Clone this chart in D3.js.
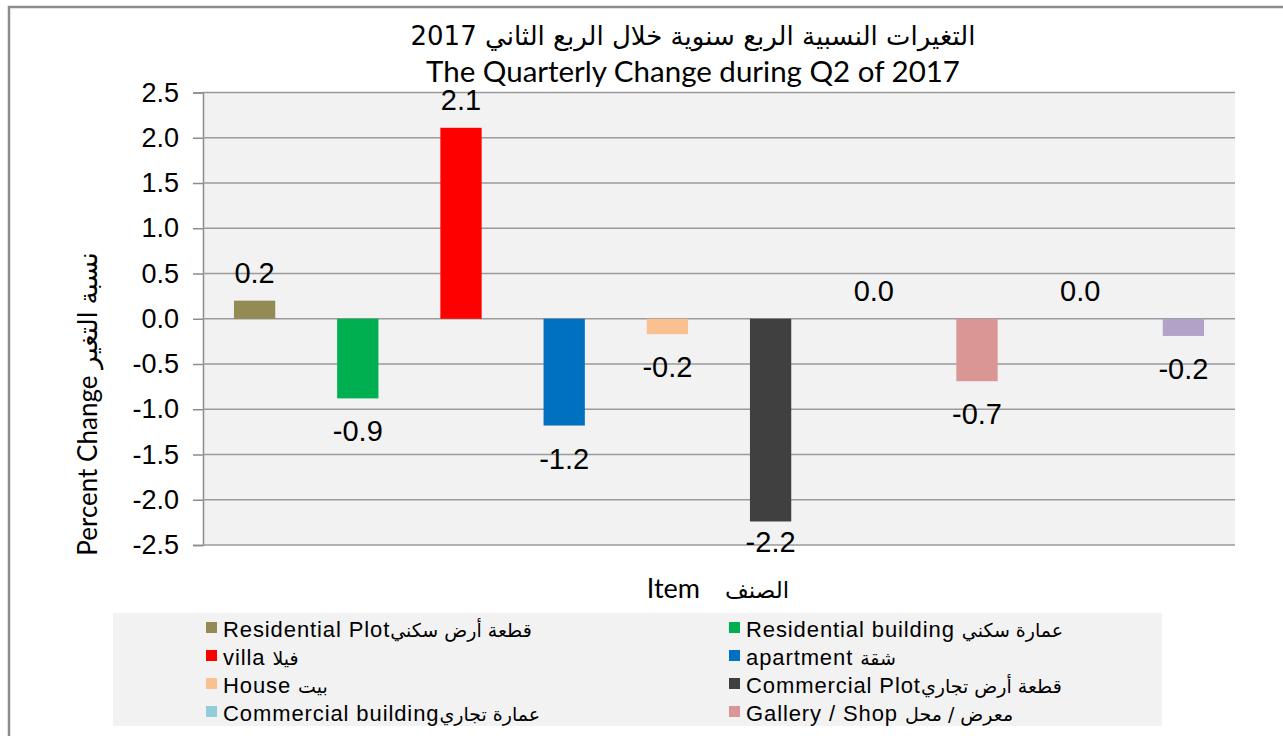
<!DOCTYPE html>
<html>
<head>
<meta charset="utf-8">
<script src="https://cdn.jsdelivr.net/npm/d3@7"></script>
<style>
  html, body { margin: 0; padding: 0; background: #ffffff; }
  svg { display: block; }
</style>
</head>
<body>
<svg id="chart" width="1283" height="736"></svg>
<script>
// ---------------- DATA ----------------
const categories = [
  "Residential Plot", "Residential building", "villa", "apartment", "House",
  "Commercial Plot", "Commercial building", "Gallery / Shop", "Item 9", "Item 10"
];
// legend entries visible in the reference (the remaining ones are clipped)
const legendEn = [
  "Residential Plot", "Residential building ", "villa ", "apartment ",
  "House ", "Commercial Plot", "Commercial building", "Gallery / Shop "
];
const legendAr = [
  "\u0642\u0637\u0639\u0629 \u0623\u0631\u0636 \u0633\u0643\u0646\u064A",
  "\u0639\u0645\u0627\u0631\u0629 \u0633\u0643\u0646\u064A",
  "\u0641\u064A\u0644\u0627",
  "\u0634\u0642\u0629",
  "\u0628\u064A\u062A",
  "\u0642\u0637\u0639\u0629 \u0623\u0631\u0636 \u062A\u062C\u0627\u0631\u064A",
  "\u0639\u0645\u0627\u0631\u0629 \u062A\u062C\u0627\u0631\u064A",
  "\u0645\u0639\u0631\u0636 / \u0645\u062D\u0644"
];
const values = [0.2, -0.88, 2.11, -1.18, -0.17, -2.24, 0.0, -0.69, 0.0, -0.19];
const colors = ["#948a54", "#00b050", "#ff0000", "#0070c0", "#fac090",
                "#404040", "#92cddc", "#d99694", "#8eb4e3", "#b3a2c7"];
const yTicks = [-2.5, -2.0, -1.5, -1.0, -0.5, 0.0, 0.5, 1.0, 1.5, 2.0, 2.5];
const titleAr = "\u0627\u0644\u062A\u063A\u064A\u0631\u0627\u062A \u0627\u0644\u0646\u0633\u0628\u064A\u0629 \u0627\u0644\u0631\u0628\u0639 \u0633\u0646\u0648\u064A\u0629 \u062E\u0644\u0627\u0644 \u0627\u0644\u0631\u0628\u0639 \u0627\u0644\u062B\u0627\u0646\u064A 2017";
const titleEn = "The Quarterly Change during Q2 of 2017";
const yTitle = "Percent Change  \u0646\u0633\u0628\u0629 \u0627\u0644\u062A\u063A\u064A\u0631";
const xTitleEn = "Item";
const xTitleAr = "\u0627\u0644\u0635\u0646\u0641";

// ---------------- LAYOUT ----------------
const svg = d3.select("#chart");
const plot = { left: 203, right: 1235, top: 92.5, bottom: 545 };
const fmt = d3.formatLocale({ decimal: ".", thousands: ",", grouping: [3], currency: ["", ""], minus: "-" }).format(".1f");

// outer chart border (only top/left visible)
svg.append("rect")
  .attr("x", 9).attr("y", 7).attr("width", 1300).attr("height", 760)
  .attr("fill", "#ffffff").attr("stroke", "#8c8c8c").attr("stroke-width", 2.5);

const x = d3.scaleBand().domain(categories)
  .range([plot.left, plot.right]).paddingInner(0.6).paddingOuter(0.3);
const y = d3.scaleLinear().domain([-2.5, 2.5]).range([plot.bottom, plot.top]);

// plot background
svg.append("rect")
  .attr("x", plot.left).attr("y", plot.top)
  .attr("width", plot.right - plot.left).attr("height", plot.bottom - plot.top)
  .attr("fill", "#f2f2f2");

// gridlines + y axis
const yAxis = d3.axisLeft(y).tickValues(yTicks).tickFormat(fmt)
  .tickSize(10).tickPadding(14);
const gy = svg.append("g").attr("transform", `translate(${plot.left},0)`).call(yAxis);
gy.select(".domain").attr("stroke", "#8c8c8c").attr("stroke-width", 1.5);
gy.selectAll(".tick line").attr("stroke", "#8c8c8c").attr("stroke-width", 1.5);
gy.selectAll(".tick text")
  .attr("font-family", "'Liberation Sans', Arial, sans-serif")
  .attr("font-size", 27).attr("fill", "#000");

svg.append("g").selectAll("line").data(yTicks).join("line")
  .attr("x1", plot.left).attr("x2", plot.right)
  .attr("y1", d => y(d)).attr("y2", d => y(d))
  .attr("stroke", "#9a9a9a").attr("stroke-width", 1.5);

// bars
svg.append("g").selectAll("rect").data(values).join("rect")
  .attr("x", (d, i) => x(categories[i]))
  .attr("width", x.bandwidth())
  .attr("y", d => y(Math.max(0, d)))
  .attr("height", d => Math.abs(y(d) - y(0)))
  .attr("fill", (d, i) => colors[i]);

// data labels
svg.append("g").selectAll("text").data(values).join("text")
  .attr("x", (d, i) => x(categories[i]) + x.bandwidth() / 2)
  .attr("y", d => d >= 0 ? y(d) - 18 : Math.min(y(d) + 43, 552))
  .attr("text-anchor", "middle")
  .attr("font-family", "'Liberation Sans', Arial, sans-serif")
  .attr("font-size", 29).attr("fill", "#000")
  .text(d => fmt(d));

// titles
svg.append("text")
  .attr("x", 693).attr("y", 45).attr("text-anchor", "middle")
  .attr("font-family", "'DejaVu Sans', sans-serif")
  .attr("font-size", 26).attr("fill", "#000")
  .text(titleAr);
svg.append("text")
  .attr("x", 693).attr("y", 82).attr("text-anchor", "middle")
  .attr("font-family", "Lato, 'Open Sans', sans-serif")
  .attr("font-size", 29.5).attr("fill", "#000")
  .text(titleEn);

// axis titles
svg.append("text")
  .attr("transform", "translate(97,404) rotate(-90)")
  .attr("text-anchor", "middle")
  .attr("font-family", "Lato, 'DejaVu Sans', sans-serif")
  .attr("font-size", 26).attr("fill", "#000")
  .text(yTitle);
svg.append("text")
  .attr("x", 700).attr("y", 598).attr("text-anchor", "end")
  .attr("font-family", "Lato, sans-serif")
  .attr("font-size", 27).attr("fill", "#000")
  .text(xTitleEn);
svg.append("text")
  .attr("x", 725).attr("y", 598).attr("text-anchor", "start")
  .attr("font-family", "'DejaVu Sans', sans-serif")
  .attr("font-size", 23).attr("fill", "#000")
  .text(xTitleAr);

// legend
svg.append("rect")
  .attr("x", 113).attr("y", 613).attr("width", 1049).attr("height", 113)
  .attr("fill", "#f2f2f2");
const lg = svg.append("g").selectAll("g").data(legendEn).join("g")
  .attr("transform", (d, i) => `translate(${i % 2 === 0 ? 206 : 729},${637 + Math.floor(i / 2) * 28})`);
lg.append("rect")
  .attr("x", 0).attr("y", -15).attr("width", 11).attr("height", 11)
  .attr("fill", (d, i) => colors[i]);
const lt = lg.append("text")
  .attr("x", 17).attr("y", 0)
  .attr("font-family", "'Liberation Sans', Arial, sans-serif")
  .attr("fill", "#000");
lt.append("tspan")
  .attr("font-size", 22).attr("letter-spacing", 0.9)
  .text(d => d);
lt.append("tspan")
  .attr("font-family", "'DejaVu Sans', sans-serif")
  .attr("font-size", 19)
  .text((d, i) => legendAr[i]);
</script>
</body>
</html>
